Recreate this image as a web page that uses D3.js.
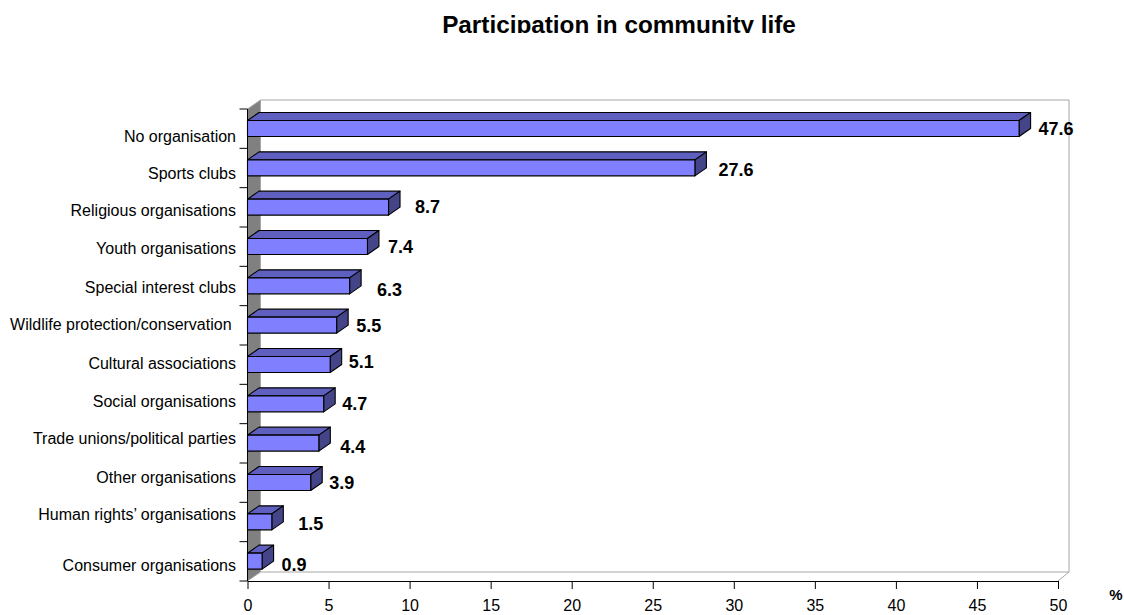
<!DOCTYPE html>
<html><head><meta charset="utf-8">
<script src="https://cdn.jsdelivr.net/npm/d3@7/dist/d3.min.js"></script>
<style>
html,body{margin:0;padding:0;background:#fff}
text{font-family:"Liberation Sans",Arial,sans-serif;fill:#000;white-space:pre}
</style></head><body><div id="c"></div>
<script>
const categories=["No organisation","Sports clubs","Religious organisations","Youth organisations","Special interest clubs","Wildlife protection/conservation ","Cultural associations","Social organisations","Trade unions/political parties","Other organisations","Human rights’ organisations","Consumer organisations"];
const values=[47.6,27.6,8.7,7.4,6.3,5.5,5.1,4.7,4.4,3.9,1.5,0.9];
const xTicks=[0,5,10,15,20,25,30,35,40,45,50];
const titleText="Participation in community life";
const unitText="%";
// small per-label nudges seen in the reference (px from computed location)
const catNudgeY=[8,5.5,4,2,1.5,0,-1,-2,-4,-5,-7,4.5];
const valNudgeY=[0,2,-0.5,0,3.5,0,-3,-0.5,3,0.5,2,3];
const valNudgeX=[8,12,15,9,16,8,7,7,10,7,15,8];

const W=1124,H=615,x0=247.5,x1=1058,yTop=109,yBot=581,dx=11.5,dy=8,wallDx=13,wallDy=9;
const svg=d3.select("#c").append("svg").attr("width",W).attr("height",H).style("display","block");
const x=d3.scaleLinear().domain([0,50]).range([x0,x1]);
const y=d3.scaleBand().domain(categories).range([yTop,yBot]);
const pts=a=>a.map(p=>p.join(",")).join(" ");

// title, clipped like the reference
svg.append("clipPath").attr("id","tc").append("rect").attr("x",0).attr("y",0).attr("width",W).attr("height",33);
svg.append("text").attr("clip-path","url(#tc)").attr("x",619).attr("y",32.5).attr("text-anchor","middle")
  .attr("font-size",24.3).attr("font-weight","bold").text(titleText);

// 3D walls
const wall="#a6a6a6";
svg.append("polygon").attr("points",pts([[x0+wallDx,yBot-wallDy],[x1+wallDx-2,yBot-wallDy],[x1+wallDx-2,yTop-wallDy],[x0+wallDx,yTop-wallDy]]))
  .attr("fill","#fff").attr("stroke",wall).attr("stroke-width",1);
svg.append("polygon").attr("points",pts([[x0,yTop],[x0+wallDx,yTop-wallDy],[x0+wallDx,yBot-wallDy],[x0,yBot]]))
  .attr("fill","#808080").attr("stroke",wall).attr("stroke-width",1);
svg.append("line").attr("x1",x1).attr("y1",yBot).attr("x2",x1+wallDx-2).attr("y2",yBot-wallDy).attr("stroke",wall);

// bars
const g=svg.selectAll("g.bar").data(values).join("g").attr("class","bar").attr("stroke","#000").attr("stroke-width",1.1).attr("stroke-linejoin","round");
const by=(i)=>y(categories[i])+11.5, bh=16;
g.append("polygon").attr("fill","#5f5fbf").attr("points",(d,i)=>pts([[x0,by(i)],[x0+dx,by(i)-dy],[x(d)+dx,by(i)-dy],[x(d),by(i)]]));
g.append("polygon").attr("fill","#444488").attr("points",(d,i)=>pts([[x(d),by(i)],[x(d)+dx,by(i)-dy],[x(d)+dx,by(i)+bh-dy],[x(d),by(i)+bh]]));
g.append("rect").attr("fill","#8080ff").attr("x",x0).attr("y",(d,i)=>by(i)).attr("width",d=>x(d)-x0).attr("height",bh);

// axes
const ax=svg.append("g").attr("transform",`translate(0,${yBot})`)
  .call(d3.axisBottom(x).tickValues(xTicks).tickSize(8).tickSizeOuter(0));
ax.selectAll("text").attr("font-size",16).attr("y",19).attr("dy","0.71em").style("font-family",'"Liberation Sans"');
ax.selectAll("line,path").attr("stroke","#000");

const ay=svg.append("g").attr("transform",`translate(${x0},0)`)
  .call(d3.axisLeft(y).tickSize(0).tickPadding(11.5));
ay.select("path").attr("stroke","#000").attr("d",`M0,${yTop}V${yBot}`);
ay.selectAll("text").attr("font-size",16).style("font-family",'"Liberation Sans"')
  .attr("transform",(d,i)=>`translate(0,${catNudgeY[i]})`);
svg.append("g").selectAll("line").data([...categories.map(c=>y(c)),yBot]).join("line")
  .attr("x1",x0-8).attr("x2",x0).attr("y1",d=>d).attr("y2",d=>d).attr("stroke","#000");

// value labels
svg.append("g").selectAll("text").data(values).join("text")
  .attr("x",(d,i)=>x(d)+dx+valNudgeX[i]).attr("y",(d,i)=>y(categories[i])+y.bandwidth()/2+valNudgeY[i])
  .attr("dy","0.35em").attr("font-size",18).attr("font-weight","bold").text(d=>d.toFixed(1));

svg.append("text").attr("x",1116).attr("y",599.5).attr("text-anchor","middle").attr("font-size",15).attr("font-weight","bold").text(unitText);
</script></body></html>
